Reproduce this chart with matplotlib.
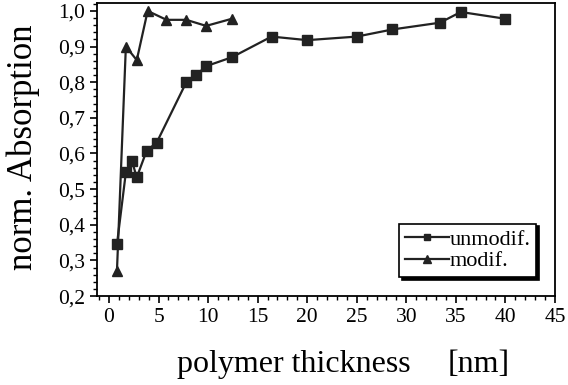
import matplotlib.pyplot as plt
from matplotlib.ticker import MultipleLocator, FuncFormatter

plt.rcParams['font.family'] = ['Liberation Serif', 'DejaVu Serif']

# unmodified polymer
x_unmod = [0.8, 1.7, 2.3, 2.8, 3.8, 4.8, 7.8, 8.8, 9.8, 12.4, 16.4, 20.0, 25.0, 28.6, 33.4, 35.5, 40.0]
y_unmod = [0.345, 0.547, 0.58, 0.533, 0.608, 0.63, 0.80, 0.82, 0.845, 0.87, 0.928, 0.918, 0.928, 0.948, 0.967, 0.997, 0.978]

# modified polymer
x_mod = [0.8, 1.7, 2.8, 3.9, 5.8, 7.8, 9.8, 12.4]
y_mod = [0.27, 0.90, 0.862, 1.0, 0.975, 0.975, 0.958, 0.978]

fig = plt.figure(figsize=(5.68, 3.85), dpi=100)
ax = fig.add_axes([0.171, 0.231, 0.806, 0.761])

ax.plot(x_unmod, y_unmod, color='#222222', lw=1.6, marker='s', ms=6.5,
        label='unmodif.')
ax.plot(x_mod, y_mod, color='#222222', lw=1.6, marker='^', ms=7.5,
        label='modif.')

ax.set_xlim(-1.2, 45)
ax.set_ylim(0.2, 1.022)
ax.xaxis.set_major_locator(MultipleLocator(5))
ax.xaxis.set_minor_locator(MultipleLocator(1))
ax.yaxis.set_major_locator(MultipleLocator(0.1))
ax.yaxis.set_minor_locator(MultipleLocator(0.02))
ax.yaxis.set_major_formatter(FuncFormatter(lambda v, p: f'{v:.1f}'.replace('.', ',')))
ax.tick_params(which='major', length=5, width=1.2, labelsize=15.5, direction='out')
ax.tick_params(which='minor', length=3, width=1)
for s in ax.spines.values():
    s.set_linewidth(1.3)

leg = ax.legend(loc='lower right', bbox_to_anchor=(0.968, 0.05), fontsize=16,
                frameon=True, fancybox=False, handlelength=2.0,
                handletextpad=0.0, borderpad=0.25, labelspacing=0.05,
                borderaxespad=0.2, markerscale=0.7,
                shadow={'color': 'black', 'alpha': 1})
leg.get_frame().set_edgecolor('black')
leg.get_frame().set_linewidth(1.2)

fig.text(0.517, 0.035, 'polymer thickness', fontsize=23, ha='center')
fig.text(0.842, 0.035, '[nm]', fontsize=23, ha='center')
fig.text(0.041, 0.618, 'norm. Absorption', fontsize=25, rotation=90,
         ha='center', va='center')

fig.savefig('out.png', dpi=100)
